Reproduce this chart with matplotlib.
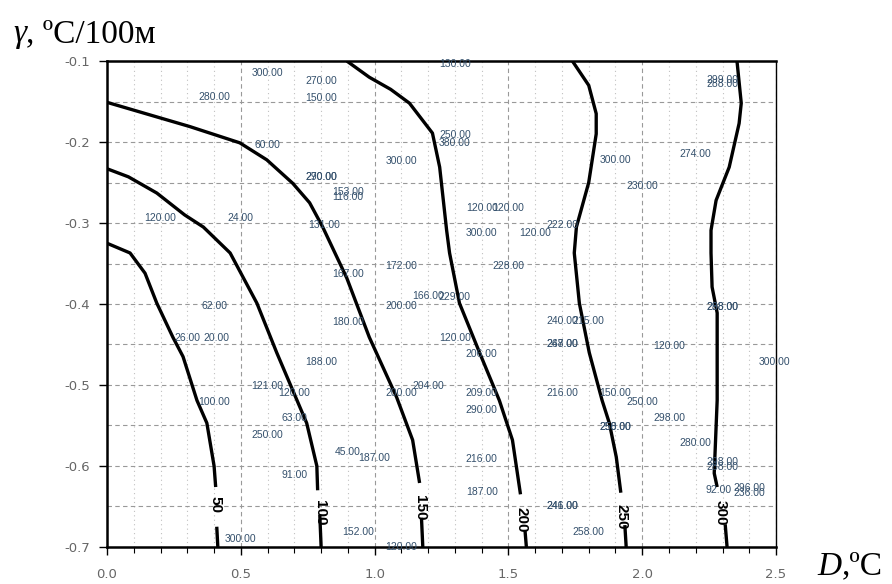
import numpy as np
import matplotlib.pyplot as plt
from matplotlib.ticker import MultipleLocator

# isolines: level, upper branch and short bottom stub (D, gamma)
levels = [50, 100, 150, 200, 250, 300]
line_x = [
    [0.0, 0.086, 0.142, 0.186, 0.246, 0.284, 0.336, 0.373, 0.40, 0.406],
    [0.0, 0.08, 0.186, 0.29, 0.36, 0.46, 0.56, 0.634, 0.71, 0.746, 0.784, 0.787],
    [0.0, 0.31, 0.496, 0.597, 0.694, 0.757, 0.806, 0.896, 0.98, 1.082, 1.142, 1.168],
    [0.896, 0.98, 1.06, 1.13, 1.216, 1.243, 1.269, 1.28, 1.317, 1.392, 1.466, 1.515, 1.545],
    [1.739, 1.80, 1.828, 1.828, 1.80, 1.754, 1.746, 1.765, 1.802, 1.85, 1.877, 1.903, 1.92],
    [2.354, 2.37, 2.362, 2.325, 2.276, 2.257, 2.257, 2.261, 2.28, 2.28, 2.269, 2.28],
]
line_y = [
    [-0.325, -0.337, -0.362, -0.399, -0.441, -0.465, -0.519, -0.547, -0.60, -0.626],
    [-0.233, -0.243, -0.263, -0.29, -0.305, -0.337, -0.399, -0.46, -0.519, -0.547, -0.60, -0.63],
    [-0.151, -0.181, -0.201, -0.222, -0.251, -0.275, -0.305, -0.368, -0.441, -0.515, -0.568, -0.621],
    [-0.10, -0.12, -0.135, -0.152, -0.189, -0.231, -0.309, -0.337, -0.399, -0.46, -0.519, -0.568, -0.635],
    [-0.10, -0.13, -0.165, -0.19, -0.25, -0.305, -0.337, -0.399, -0.46, -0.519, -0.547, -0.589, -0.633],
    [-0.10, -0.152, -0.177, -0.231, -0.272, -0.309, -0.337, -0.379, -0.411, -0.519, -0.609, -0.626],
]
stub_x = [[0.41, 0.414], [0.795, 0.80], [1.175, 1.18], [1.562, 1.567], [1.935, 1.94], [2.31, 2.317]]
stub_y = [[-0.675, -0.70], [-0.66, -0.70], [-0.664, -0.70], [-0.68, -0.70], [-0.673, -0.70], [-0.672, -0.70]]
label_x = [0.407, 0.795, 1.168, 1.549, 1.922, 2.295]
label_y = [-0.648, -0.658, -0.651, -0.667, -0.663, -0.658]

# measured points and their values
pt_x = [0.6, 0.8, 0.8, 0.4, 0.6, 0.8, 0.8, 0.9, 0.9, 0.2, 0.5, 0.81,
        1.3, 2.3, 2.3, 1.3, 1.3, 1.1, 1.9, 2.2, 2.0, 1.4, 1.5, 1.7,
        1.4, 1.6, 1.1, 1.5, 0.9, 1.2, 1.3, 1.1, 0.4, 0.9, 1.7, 1.8,
        0.3, 0.41, 1.3, 1.7, 1.7, 2.1, 1.4, 2.493, 2.3, 2.3, 0.8, 0.6,
        0.7, 1.2, 1.1, 1.4, 1.7, 1.9, 2.0, 0.4, 0.7, 1.4, 2.1, 0.6,
        1.9, 1.9, 2.2, 0.9, 1.0, 0.7, 1.4, 2.3, 2.3, 1.4, 1.7, 1.7,
        2.287, 2.4, 2.4, 1.8, 0.5, 0.937, 1.1]
pt_y = [-0.115, -0.125, -0.146, -0.144, -0.204, -0.243, -0.243, -0.262, -0.268, -0.294, -0.294, -0.302,
        -0.104, -0.123, -0.128, -0.191, -0.201, -0.223, -0.222, -0.215, -0.254, -0.281, -0.281, -0.302,
        -0.312, -0.312, -0.353, -0.353, -0.363, -0.39, -0.391, -0.402, -0.402, -0.422, -0.421, -0.421,
        -0.442, -0.442, -0.442, -0.449, -0.449, -0.452, -0.462, -0.472, -0.404, -0.404, -0.472, -0.501,
        -0.51, -0.501, -0.51, -0.51, -0.51, -0.51, -0.521, -0.521, -0.541, -0.531, -0.541, -0.562,
        -0.552, -0.552, -0.572, -0.583, -0.59, -0.611, -0.591, -0.595, -0.601, -0.632, -0.649, -0.649,
        -0.63, -0.627, -0.633, -0.681, -0.69, -0.681, -0.70]
pt_val = [300, 270, 150, 280, 60, 270, 290, 153, 116, 120, 24, 131,
          130, 299, 288, 250, 380, 300, 300, 274, 230, 120, 120, 222,
          300, 120, 172, 228, 167, 166, 229, 200, 62, 180, 240, 215,
          26, 20, 120, 247, 268, 120, 206, 300, 288, 298, 188, 121,
          120, 204, 200, 209, 216, 150, 250, 100, 63, 290, 298, 250,
          250, 258, 280, 45, 187, 91, 216, 298, 288, 187, 241, 246,
          92, 296, 236, 258, 300, 152, 120]

fig = plt.figure(figsize=(8.92, 5.84), dpi=100)
ax = fig.add_axes([0.12, 0.0634, 0.75, 0.8321])

ax.set_xlim(0, 2.5)
ax.set_ylim(-0.7, -0.1)
ax.xaxis.set_major_locator(MultipleLocator(0.5))
ax.xaxis.set_minor_locator(MultipleLocator(0.1))
ax.yaxis.set_major_locator(MultipleLocator(0.1))
ax.yaxis.set_minor_locator(MultipleLocator(0.05))
ax.xaxis.set_major_formatter(lambda v, p: '%.1f' % v)
ax.yaxis.set_major_formatter(lambda v, p: '%.1f' % v)

ax.grid(which='major', axis='x', ls=(0, (4, 3)), color='#999999', lw=0.8)
ax.grid(which='minor', axis='x', ls=(0, (1, 3)), color='#c0c0c0', lw=0.8)
ax.grid(which='both', axis='y', ls=(0, (4, 3)), color='#999999', lw=0.8)
ax.set_axisbelow(True)

ax.tick_params(which='major', direction='out', length=6, width=1,
               labelsize=9.5, labelcolor='#666666')
ax.tick_params(axis='x', which='minor', direction='out', length=4, width=0.8)
ax.tick_params(axis='y', which='minor', length=0)
ax.tick_params(axis='x', pad=9)
ax.tick_params(axis='y', pad=6)

for side in ['left', 'bottom', 'top']:
    ax.spines[side].set_linewidth(1.8)
ax.spines['right'].set_linewidth(1.0)

for i in range(len(levels)):
    ax.plot(line_x[i], line_y[i], color='black', lw=2.4, solid_capstyle='butt')
    ax.plot(stub_x[i], stub_y[i], color='black', lw=2.4, solid_capstyle='butt')
    ax.text(label_x[i], label_y[i], str(levels[i]), rotation=-90,
            ha='center', va='center', fontsize=11, fontweight='bold',
            family='Liberation Sans', color='black')

for x, y, v in zip(pt_x, pt_y, pt_val):
    ax.text(x, y, '%.2f' % v, ha='center', va='center', fontsize=7.5,
            family='Liberation Sans', color='#34506c', clip_on=False)

# axis captions
g = fig.text(0.0146, 0.928, 'γ', fontsize=24, family='Liberation Serif',
             style='italic', va='baseline')
ax.annotate(', ºC/100м', xy=(1, 0), xycoords=g, va='bottom', fontsize=24,
            family='Liberation Serif')
d = fig.text(0.916, 0.016, 'D', fontsize=24, family='Liberation Serif',
             style='italic', va='baseline')
ax.annotate(',ºC', xy=(1, 0), xycoords=d, va='bottom', fontsize=24,
            family='Liberation Serif')

fig.savefig('out.png', dpi=100)
